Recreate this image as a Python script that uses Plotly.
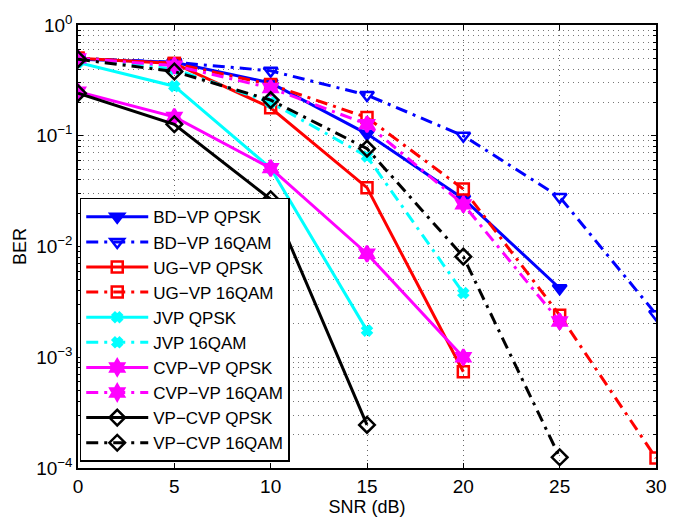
import plotly.graph_objects as go

# SNR grid for the two modulation families
snr_qpsk = [0, 5, 10, 15, 20, 25]
snr_16qam = [0, 5, 10, 15, 20, 25, 30]

# BER curves
bdvp_qpsk = [0.49, 0.46, 0.30, 0.104, 0.027, 0.0042]
bdvp_16qam = [0.50, 0.46, 0.386, 0.233, 0.100, 0.028, 0.00245]
ugvp_qpsk = [0.50, 0.45, 0.179, 0.034, 0.00074]
ugvp_16qam = [0.50, 0.45, 0.29, 0.146, 0.033, 0.0024, 0.000123]
jvp_qpsk = [0.46, 0.28, 0.051, 0.00174]
jvp_16qam = [0.50, 0.40, 0.20, 0.065, 0.0038]
cvpvp_qpsk = [0.25, 0.148, 0.051, 0.0086, 0.0010]
cvpvp_16qam = [0.50, 0.43, 0.27, 0.127, 0.024, 0.0021]
vpcvp_qpsk = [0.242, 0.127, 0.0267, 0.000245]
vpcvp_16qam = [0.49, 0.38, 0.21, 0.0766, 0.0081, 0.000125]

DASHDOT = "12px,6px,3px,6px"
GRID_DOT = "1px,4px"

series = [
    ("BD\u2212VP QPSK", snr_qpsk, bdvp_qpsk, "blue", "solid", "triangle-down", 12),
    ("BD\u2212VP 16QAM", snr_16qam, bdvp_16qam, "blue", DASHDOT, "triangle-down-open", 12),
    ("UG\u2212VP QPSK", snr_qpsk, ugvp_qpsk, "red", "solid", "square-open", 11),
    ("UG\u2212VP 16QAM", snr_16qam, ugvp_16qam, "red", DASHDOT, "square-open", 11),
    ("JVP QPSK", snr_qpsk, jvp_qpsk, "cyan", "solid", "x", 8),
    ("JVP 16QAM", snr_16qam, jvp_16qam, "cyan", DASHDOT, "x", 8),
    ("CVP\u2212VP QPSK", snr_qpsk, cvpvp_qpsk, "magenta", "solid", "hexagram", 12),
    ("CVP\u2212VP 16QAM", snr_16qam, cvpvp_16qam, "magenta", DASHDOT, "hexagram", 12),
    ("VP\u2212CVP QPSK", snr_qpsk, vpcvp_qpsk, "black", "solid", "diamond-open", 12),
    ("VP\u2212CVP 16QAM", snr_16qam, vpcvp_16qam, "black", DASHDOT, "diamond-open", 12),
]

fig = go.Figure()
for name, xs, ys, color, dash, symbol, msize in series:
    fig.add_trace(go.Scatter(
        x=xs[:len(ys)], y=ys, name=name, mode="lines+markers",
        line=dict(color=color, width=3, dash=dash),
        marker=dict(symbol=symbol, size=msize, color=color,
                    line=dict(color=color, width=2.5)),
    ))

ytick_vals = [1e-4, 1e-3, 1e-2, 1e-1, 1]
ytick_text = ["10<sup>\u22124</sup>", "10<sup>\u22123</sup>", "10<sup>\u22122</sup>",
              "10<sup>\u22121</sup>", "10<sup>0</sup>"]
ytick_minor = [k * 10.0 ** e for e in range(-4, 0) for k in range(2, 10)]
xtick_vals = [0, 5, 10, 15, 20, 25, 30]

font = dict(family="Liberation Sans, Arial, sans-serif", size=17, color="black")
tick_font = dict(family="Liberation Sans, Arial, sans-serif", size=19, color="black")

fig.update_layout(
    width=683, height=521,
    margin=dict(l=78, r=27, t=15, b=50),
    paper_bgcolor="white", plot_bgcolor="white",
    font=font,
    showlegend=True,
    legend=dict(x=0.003, y=0.61, xanchor="left", yanchor="top",
                bordercolor="black", borderwidth=1.5, bgcolor="white",
                font=dict(size=17), tracegroupgap=0, itemwidth=62),
    xaxis=dict(
        range=[0, 30], tickvals=xtick_vals, tickfont=tick_font,
        title=dict(text="SNR (dB)", standoff=0, font=dict(size=18)),
        showline=True, linecolor="black", linewidth=1.5, mirror="ticks",
        ticks="inside", ticklen=5, tickcolor="black",
        showgrid=True, gridcolor="#666", griddash=GRID_DOT, gridwidth=1,
        zeroline=False,
    ),
    yaxis=dict(
        type="log", range=[-4, 0], tickvals=ytick_vals, ticktext=ytick_text,
        tickfont=tick_font,
        title=dict(text="BER", standoff=5, font=dict(size=18)),
        showline=True, linecolor="black", linewidth=1.5, mirror="ticks",
        ticks="inside", ticklen=5, tickcolor="black",
        showgrid=True, gridcolor="#666", griddash=GRID_DOT, gridwidth=1,
        minor=dict(tickvals=ytick_minor, ticks="inside", ticklen=3, tickcolor="black",
                   showgrid=True, gridcolor="#777", griddash=GRID_DOT, gridwidth=1),
        zeroline=False,
    ),
)

fig.write_html("out.html")
